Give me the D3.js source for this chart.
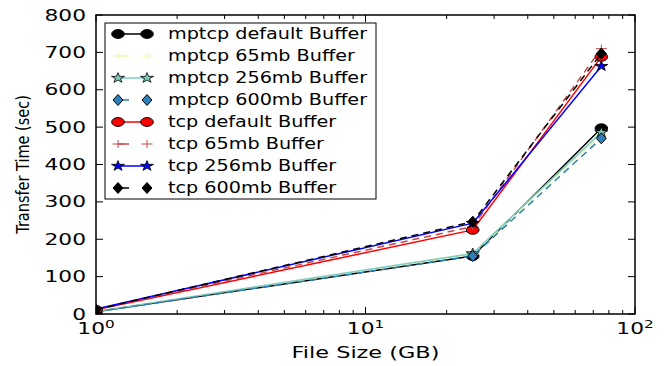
<!DOCTYPE html>
<html>
<head>
<meta charset="utf-8">
<script src="https://cdn.jsdelivr.net/npm/d3@7"></script>
<style>
  body { margin: 0; background: #fff; }
  text { font-family: "DejaVu Sans", sans-serif; fill: #000; }
</style>
</head>
<body>
<script>
// file sizes (GB) on the x axis
const fileSizes = [1, 25, 75];

const seriesNames = [
    "mptcp default Buffer", "mptcp 65mb Buffer", "mptcp 256mb Buffer", "mptcp 600mb Buffer",
    "tcp default Buffer", "tcp 65mb Buffer", "tcp 256mb Buffer", "tcp 600mb Buffer"
];

// transfer time (sec)
const mptcpDefault = [6, 155, 497];
const mptcp65 = [6, 160, 480];
const mptcp256 = [7, 162, 486];
const mptcp600 = [6, 155, 470];
const tcpDefault = [11, 225, 688];
const tcp65 = [12, 234, 710];
const tcp256 = [13, 243, 663];
const tcp600 = [12, 247, 697];

const yTicks = [0, 100, 200, 300, 400, 500, 600, 700, 800];
const xMajor = [1, 10, 100];

const seriesValues = [mptcpDefault, mptcp65, mptcp256, mptcp600, tcpDefault, tcp65, tcp256, tcp600];
const colors = ["#000000", "#edf8b1", "#7fcdbb", "#2c7fb8", "#ff0000", "#c44a4a", "#0000ff", "#000000"];
const dashed = [false, true, false, true, false, true, false, true];
const markers = ["circle", "plus", "star", "diamond", "circle", "plus", "star", "diamond"];

const W = 668, H = 366;
const margin = {top: 15, right: 33, bottom: 52, left: 96};
const iw = W - margin.left - margin.right;
const ih = H - margin.top - margin.bottom;

const svg = d3.select("body").append("svg")
    .attr("width", W)
    .attr("height", H);

const g = svg.append("g")
    .attr("transform", `translate(${margin.left},${margin.top})`);

const x = d3.scaleLog().domain([1, 100]).range([0, iw]);
const y = d3.scaleLinear().domain([0, 800]).range([ih, 0]);

svg.append("defs").append("clipPath").attr("id", "plotclip")
    .append("rect").attr("width", iw).attr("height", ih);

// stretched text helper (the picture is wider than it is tall)
function label(parent, px, py, txt, size, sx, anchor) {
    return parent.append("text")
        .attr("transform", `translate(${px},${py}) scale(${sx},1)`)
        .attr("text-anchor", anchor)
        .style("font-size", size + "px")
        .text(txt);
}

// marker drawing
function drawMarker(sel, type, color) {
    if (type === "circle") {
        sel.append("ellipse").attr("rx", 6.3).attr("ry", 4.4)
            .attr("fill", color).attr("stroke", "#000").attr("stroke-width", 1);
    } else if (type === "plus") {
        sel.append("path").attr("d", "M-5.5,0H5.5M0,-4V4")
            .attr("fill", "none").attr("stroke", color).attr("stroke-width", 1);
    } else if (type === "star") {
        sel.append("path")
            .attr("d", d3.symbol(d3.symbolStar, 40)())
            .attr("transform", "scale(1.15,0.9)")
            .attr("fill", color).attr("stroke", "#000").attr("stroke-width", 0.8);
    } else if (type === "diamond") {
        sel.append("path").attr("d", "M0,-5.5L5,0L0,5.5L-5,0Z")
            .attr("fill", color).attr("stroke", "#000").attr("stroke-width", 1);
    }
}

// series
const line = d3.line()
    .x((d, i) => x(fileSizes[i]))
    .y(d => y(d));

const plot = g.append("g").attr("clip-path", "url(#plotclip)");

seriesValues.forEach((vals, s) => {
    plot.append("path")
        .datum(vals)
        .attr("d", line)
        .attr("fill", "none")
        .attr("stroke", colors[s])
        .attr("stroke-width", 1.5)
        .attr("stroke-dasharray", dashed[s] ? "7,5" : null);
    plot.selectAll(null)
        .data(vals)
        .enter()
        .append("g")
        .attr("transform", (d, i) => `translate(${x(fileSizes[i])},${y(d)})`)
        .each(function() { drawMarker(d3.select(this), markers[s], colors[s]); });
});

// ticks (inward, all four sides)
const minorX = [];
for (let dec = 1; dec < 100; dec *= 10) {
    for (let k = 2; k <= 9; k++) minorX.push(dec * k);
}
const tickG = g.append("g").attr("stroke", "#000").attr("stroke-width", 1);
xMajor.forEach(v => {
    tickG.append("line").attr("x1", x(v)).attr("x2", x(v)).attr("y1", ih).attr("y2", ih - 7);
    tickG.append("line").attr("x1", x(v)).attr("x2", x(v)).attr("y1", 0).attr("y2", 7);
});
minorX.forEach(v => {
    tickG.append("line").attr("x1", x(v)).attr("x2", x(v)).attr("y1", ih).attr("y2", ih - 4);
    tickG.append("line").attr("x1", x(v)).attr("x2", x(v)).attr("y1", 0).attr("y2", 4);
});
yTicks.forEach(v => {
    tickG.append("line").attr("x1", 0).attr("x2", 7).attr("y1", y(v)).attr("y2", y(v));
    tickG.append("line").attr("x1", iw).attr("x2", iw - 7).attr("y1", y(v)).attr("y2", y(v));
});

// frame
g.append("rect")
    .attr("width", iw).attr("height", ih)
    .attr("fill", "none").attr("stroke", "#000").attr("stroke-width", 1.5);

// tick labels
yTicks.forEach(v => {
    label(g, -10, y(v) + 5.5, String(v), 15, 1.45, "end");
});
xMajor.forEach(v => {
    const t = g.append("text")
        .attr("transform", `translate(${x(v)},${ih + 20}) scale(1.45,1)`)
        .attr("text-anchor", "middle")
        .style("font-size", "15px");
    t.append("tspan").text("10");
    t.append("tspan").attr("dy", -6).style("font-size", "10.5px").text(String(Math.log10(v)));
});

// axis labels
label(svg, margin.left + iw / 2, 358, "File Size (GB)", 16, 1.4, "middle");
svg.append("text")
    .attr("transform", `translate(29,${margin.top + ih / 2}) rotate(-90) scale(1,1.2)`)
    .attr("text-anchor", "middle")
    .style("font-size", "14.5px")
    .text("Transfer Time (sec)");

// legend
const lg = svg.append("g");
lg.append("rect")
    .attr("x", 105).attr("y", 23).attr("width", 271).attr("height", 176)
    .attr("fill", "#fff").attr("stroke", "#000").attr("stroke-width", 1);

seriesNames.forEach((name, s) => {
    const ry = 34 + s * 22;
    lg.append("line")
        .attr("x1", 118).attr("x2", 147).attr("y1", ry).attr("y2", ry)
        .attr("stroke", colors[s]).attr("stroke-width", 1.5)
        .attr("stroke-dasharray", dashed[s] ? "11,30" : null);
    [118, 147].forEach(mx => {
        const mg = lg.append("g").attr("transform", `translate(${mx},${ry})`);
        drawMarker(mg, markers[s], colors[s]);
    });
    label(lg, 168, ry + 5, name, 15, 1.28, "start");
});
</script>
</body>
</html>
